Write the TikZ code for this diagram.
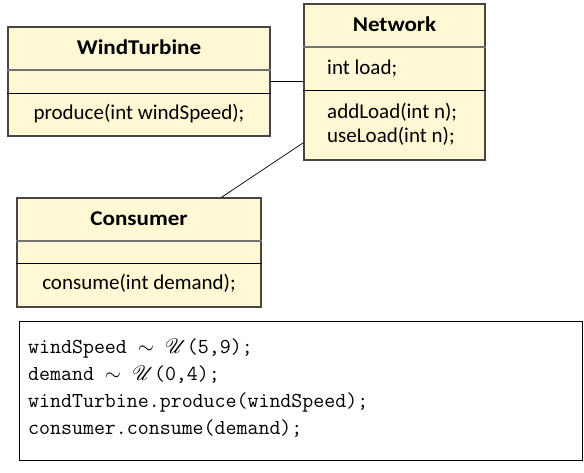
\documentclass[tikz,border=0pt]{standalone}
\usepackage{fontspec}
\usepackage{mathrsfs}
\setmainfont{Carlito}
\definecolor{classfill}{RGB}{255,248,212}
\definecolor{classedge}{RGB}{70,70,70}
\tikzset{
  classbox/.style={draw=classedge, line width=1.1pt, fill=classfill,
    rectangle, inner sep=0pt},
  titlerule/.style={draw=black!55, line width=1.2pt},
  memberrule/.style={draw=black, line width=0.9pt},
  assoc/.style={draw=black, line width=0.7pt},
  classname/.style={anchor=base, inner sep=0pt,
    font=\fontsize{21}{25}\selectfont\bfseries\addfontfeature{FakeStretch=1.1}},
  member/.style={anchor=base, inner sep=0pt, font=\fontsize{21}{25}\selectfont},
  codebox/.style={draw=black, line width=1pt, rectangle, inner sep=0pt},
  codeline/.style={anchor=base west, inner sep=0pt, font=\fontsize{21.3}{26}\selectfont\ttfamily},
}
\begin{document}
\begin{tikzpicture}[x=1pt, y=-1pt]
  \useasboundingbox (0,0) rectangle (584,473);

  % class WindTurbine
  \node[classbox, minimum width=262pt, minimum height=109pt] (wt) at (139,81.5) {};
  \draw[titlerule] (wt.west |- 0,70) -- (wt.east |- 0,70);
  \draw[memberrule] (wt.west |- 0,93) -- (wt.east |- 0,93);
  \node[classname] (wtname) at (139,55) {WindTurbine};
  \node[member] (wtop) at (139,120) {produce(int windSpeed);};

  % class Network
  \node[classbox, minimum width=181pt, minimum height=156pt] (net) at (394.5,82) {};
  \draw[titlerule] (net.west |- 0,47) -- (net.east |- 0,47);
  \draw[memberrule] (net.west |- 0,90) -- (net.east |- 0,90);
  \node[classname] (netname) at (394.5,32) {Network};
  \node[member, anchor=base west] (netattr) at (327,75) {int load;};
  \node[member, anchor=base west] (netopa) at (327,119) {addLoad(int n);};
  \node[member, anchor=base west] (netopb) at (327,143) {useLoad(int n);};

  % class Consumer
  \node[classbox, minimum width=244pt, minimum height=109pt] (con) at (139,252.5) {};
  \draw[titlerule] (con.west |- 0,241) -- (con.east |- 0,241);
  \draw[memberrule] (con.west |- 0,263) -- (con.east |- 0,263);
  \node[classname] (conname) at (139,226) {Consumer};
  \node[member] (conop) at (139,290) {consume(int demand);};

  % associations
  \draw[assoc] (wt.east) -- (wt.east -| net.west);
  \draw[assoc] (con) -- (net);

  % simulation script
  \node[codebox, minimum width=563pt, minimum height=139pt] (code) at (300.5,390.5) {};
  \node[codeline] (l1) at (28,353) {windSpeed $\sim$ $\mathscr{U}$(5,9);};
  \node[codeline] (l2) at (28,380) {demand $\sim$ $\mathscr{U}$(0,4);};
  \node[codeline] (l3) at (28,407) {windTurbine.produce(windSpeed);};
  \node[codeline] (l4) at (28,434) {consumer.consume(demand);};
\end{tikzpicture}
\end{document}
